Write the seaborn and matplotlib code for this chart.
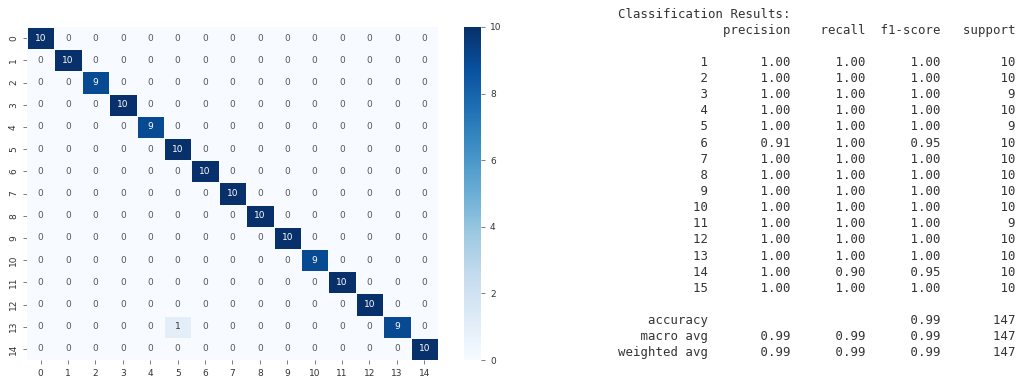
import numpy as np
import pandas as pd
import matplotlib
matplotlib.use("Agg")
import matplotlib.pyplot as plt
import seaborn as sns

# Confusion matrix of the 15-class classifier (rows: true, cols: predicted)
class_ids = list(range(15))
conf_matrix = [
    [10, 0, 0, 0, 0, 0, 0, 0, 0, 0, 0, 0, 0, 0, 0],
    [0, 10, 0, 0, 0, 0, 0, 0, 0, 0, 0, 0, 0, 0, 0],
    [0, 0, 9, 0, 0, 0, 0, 0, 0, 0, 0, 0, 0, 0, 0],
    [0, 0, 0, 10, 0, 0, 0, 0, 0, 0, 0, 0, 0, 0, 0],
    [0, 0, 0, 0, 9, 0, 0, 0, 0, 0, 0, 0, 0, 0, 0],
    [0, 0, 0, 0, 0, 10, 0, 0, 0, 0, 0, 0, 0, 0, 0],
    [0, 0, 0, 0, 0, 0, 10, 0, 0, 0, 0, 0, 0, 0, 0],
    [0, 0, 0, 0, 0, 0, 0, 10, 0, 0, 0, 0, 0, 0, 0],
    [0, 0, 0, 0, 0, 0, 0, 0, 10, 0, 0, 0, 0, 0, 0],
    [0, 0, 0, 0, 0, 0, 0, 0, 0, 10, 0, 0, 0, 0, 0],
    [0, 0, 0, 0, 0, 0, 0, 0, 0, 0, 9, 0, 0, 0, 0],
    [0, 0, 0, 0, 0, 0, 0, 0, 0, 0, 0, 10, 0, 0, 0],
    [0, 0, 0, 0, 0, 0, 0, 0, 0, 0, 0, 0, 10, 0, 0],
    [0, 0, 0, 0, 0, 1, 0, 0, 0, 0, 0, 0, 0, 9, 0],
    [0, 0, 0, 0, 0, 0, 0, 0, 0, 0, 0, 0, 0, 0, 10],
]

# Per-class report values
report_labels = [str(i) for i in range(1, 16)]
precision = [1.00, 1.00, 1.00, 1.00, 1.00, 0.91, 1.00, 1.00, 1.00, 1.00, 1.00, 1.00, 1.00, 1.00, 1.00]
recall = [1.00, 1.00, 1.00, 1.00, 1.00, 1.00, 1.00, 1.00, 1.00, 1.00, 1.00, 1.00, 1.00, 0.90, 1.00]
f1_score = [1.00, 1.00, 1.00, 1.00, 1.00, 0.95, 1.00, 1.00, 1.00, 1.00, 1.00, 1.00, 1.00, 0.95, 1.00]
support = [10, 10, 9, 10, 9, 10, 10, 10, 10, 10, 9, 10, 10, 10, 10]
accuracy = 0.99
macro_avg = [0.99, 0.99, 0.99]
weighted_avg = [0.99, 0.99, 0.99]
total_support = 147

sns.set_style("ticks")
plt.rcParams["font.family"] = ["DejaVu Sans"]

W, H = 1017, 377
fig = plt.figure(figsize=(W / 100, H / 100), dpi=100)

ax = fig.add_axes([27 / W, 1 - 360 / H, 411 / W, 333 / H])
cax = fig.add_axes([464 / W, 1 - 360 / H, 17 / W, 333 / H])

df = pd.DataFrame(conf_matrix, index=class_ids, columns=class_ids)
sns.heatmap(df, annot=True, fmt="d", cmap="Blues", linewidths=0.6,
            linecolor="#f7fbff", ax=ax, cbar_ax=cax,
            annot_kws={"fontsize": 6.5})

# soften the dark annotation text on light cells
for t in ax.texts:
    if t.get_text() == "0":
        t.set_color("#555555")
    elif t.get_text() == "1":
        t.set_color("#333333")

ax.tick_params(axis="both", labelsize=6.5, length=3, width=0.6,
               colors="#666666", labelcolor="#333333")
plt.setp(ax.get_yticklabels(), rotation=90, va="center")
plt.setp(ax.get_xticklabels(), rotation=0)

cbar = ax.collections[0].colorbar
cbar.set_ticks([0, 2, 4, 6, 8, 10])
cbar.outline.set_visible(False)
cax.tick_params(labelsize=6.5, length=3, width=0.6, colors="#666666",
                labelcolor="#333333")

# Text classification report, sklearn layout
width = 12
lines = ["Classification Results:"]
lines.append(" " * width + " " + "".join(" {:>9}".format(h) for h in
                                     ["precision", "recall", "f1-score", "support"]))
lines.append("")
for lab, p, r, f, s in zip(report_labels, precision, recall, f1_score, support):
    lines.append("{:>{w}s} ".format(lab, w=width)
                 + "".join(" {:>9.2f}".format(v) for v in (p, r, f))
                 + " {:>9}".format(s))
lines.append("")
lines.append("{:>{w}s} ".format("accuracy", w=width)
             + " {:>9}".format("") * 2 + " {:>9.2f}".format(accuracy)
             + " {:>9}".format(total_support))
for name, vals in (("macro avg", macro_avg), ("weighted avg", weighted_avg)):
    lines.append("{:>{w}s} ".format(name, w=width)
                 + "".join(" {:>9.2f}".format(v) for v in vals)
                 + " {:>9}".format(total_support))

for i, line in enumerate(lines):
    y_px = 14 + i * 16.14
    fig.text(618 / W, 1 - y_px / H, line, family="DejaVu Sans Mono",
             fontsize=8.95, color="#333333", ha="left", va="center")

fig.savefig("out.png", dpi=100)
